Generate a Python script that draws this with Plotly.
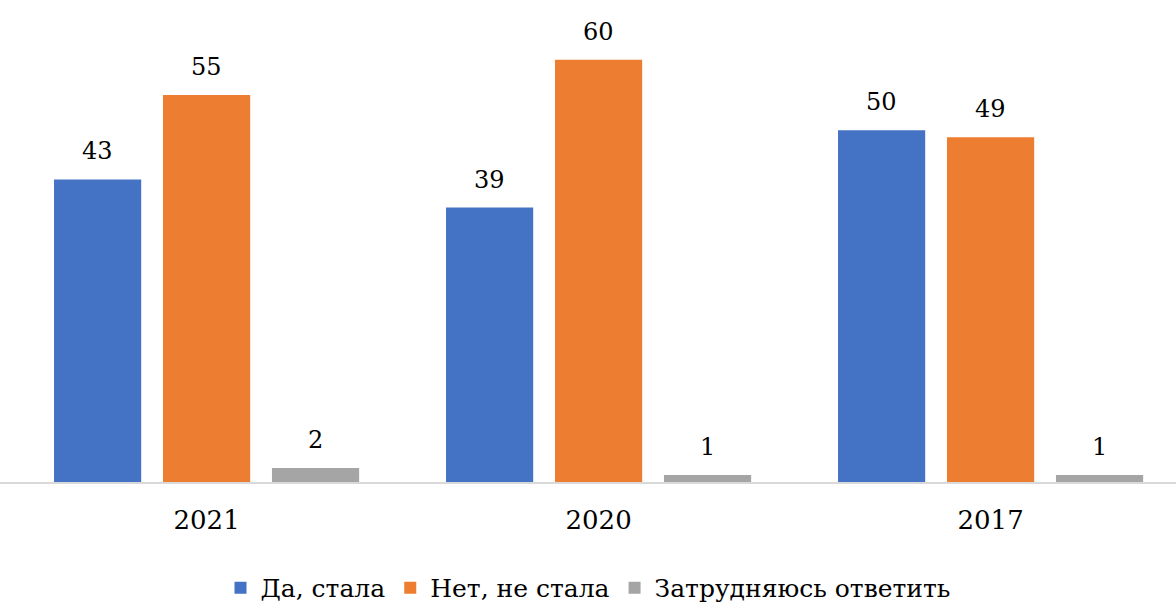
import plotly.graph_objects as go

categories = ["2021", "2020", "2017"]
series_names = ["Да, стала", "Нет, не стала", "Затрудняюсь ответить"]
yes_vals = [43, 39, 50]
no_vals = [55, 60, 49]
hard_vals = [2, 1, 1]
colors = ["#4472C4", "#ED7D31", "#A5A5A5"]

all_vals = [yes_vals, no_vals, hard_vals]
FONT = "DejaVu Serif"

fig = go.Figure()
for name, vals, col in zip(series_names, all_vals, colors):
    fig.add_trace(go.Bar(
        x=categories, y=vals, name=name,
        marker=dict(color=col, line=dict(width=0)),
        hoverinfo="x+y+name",
    ))

bargap = 0.166
groupgap = 0.2
slot = (1 - bargap) / len(all_vals)
annotations = []
for j, vals in enumerate(all_vals):
    off = (j - (len(all_vals) - 1) / 2) * slot
    for i, v in enumerate(vals):
        annotations.append(dict(
            x=i + off, y=v, xref="x", yref="y", text=str(v),
            showarrow=False, yanchor="bottom", yshift=12,
            font=dict(family=FONT, size=24, color="#000000"),
        ))

fig.update_layout(
    width=1176, height=606,
    barmode="group", bargap=bargap, bargroupgap=groupgap,
    paper_bgcolor="white", plot_bgcolor="white",
    margin=dict(l=0, r=0, t=0, b=124, autoexpand=False),
    font=dict(family=FONT, color="#000000"),
    annotations=annotations,
    legend=dict(orientation="h", x=0.5, xanchor="center", y=-0.172, yanchor="top",
                font=dict(family=FONT, size=25, color="#000000"),
                itemwidth=30, traceorder="normal"),
    showlegend=True,
)
fig.update_xaxes(showline=True, linecolor="#D9D9D9", linewidth=2, ticks="",
                 range=[-0.527, 2.473], ticklabelstandoff=14, automargin=False,
                 tickfont=dict(family=FONT, size=26, color="#000000"), showgrid=False)
fig.update_yaxes(visible=False, range=[0, 68.5], showgrid=False, zeroline=False)

fig.write_html("out.html", config={"displayModeBar": False},
               post_script="document.body.style.margin='0';document.body.style.padding='0';")
